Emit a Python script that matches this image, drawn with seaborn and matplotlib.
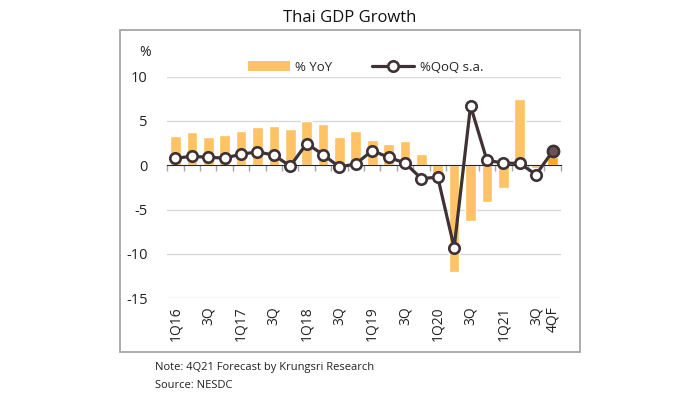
import numpy as np
import pandas as pd
import matplotlib
matplotlib.use("Agg")
import matplotlib.pyplot as plt
import seaborn as sns
from matplotlib.patches import Rectangle, Patch
from matplotlib.lines import Line2D

# 数据 (1Q16 - 4Q21F)
quarters = ['1Q16', '2Q16', '3Q16', '4Q16', '1Q17', '2Q17', '3Q17', '4Q17',
            '1Q18', '2Q18', '3Q18', '4Q18', '1Q19', '2Q19', '3Q19', '4Q19',
            '1Q20', '2Q20', '3Q20', '4Q20', '1Q21', '2Q21', '3Q21', '4QF']
tick_labels = ['1Q16', '', '3Q', '', '1Q17', '', '3Q', '', '1Q18', '', '3Q', '',
               '1Q19', '', '3Q', '', '1Q20', '', '3Q', '', '1Q21', '', '3Q', '4QF']
yoy = [3.3, 3.8, 3.2, 3.4, 3.85, 4.3, 4.4, 4.1, 5.0, 4.6, 3.2, 3.85,
       2.85, 2.4, 2.7, 1.3, -1.8, -12.1, -6.3, -4.1, -2.6, 7.5, -0.3, 0.9]
qoq = [0.8, 1.0, 0.9, 0.8, 1.25, 1.5, 1.15, -0.1, 2.45, 1.2, -0.2, 0.15,
       1.65, 0.9, 0.25, -1.5, -1.35, -9.3, 6.7, 0.55, 0.25, 0.2, -1.05, 1.55]

BAR_COLOR = '#FFC264'
BAR_FORECAST = '#FFA81C'
LINE_COLOR = '#3E3234'
LAST_FILL = '#6E5253'
GRID_COLOR = '#D9D9D9'

df = pd.DataFrame({'quarter': quarters, 'yoy': yoy, 'qoq': qoq})
df['pos'] = np.arange(len(df))

sns.set_style('white')
plt.rcParams['font.family'] = ['Open Sans', 'DejaVu Sans']

fig = plt.figure(figsize=(7, 3.97), dpi=100)
ax = fig.add_axes([0.239, 0.249, 0.562, 0.558])

# 柱状图 (% YoY)
bar_colors = [BAR_COLOR] * (len(df) - 1) + [BAR_FORECAST]
sns.barplot(data=df, x='quarter', y='yoy', hue='quarter', palette=bar_colors,
            width=0.65, legend=False, ax=ax, zorder=2, saturation=1)

# 折线 (%QoQ s.a.)
sns.lineplot(data=df, x='pos', y='qoq', color=LINE_COLOR, linewidth=2.3,
             marker='o', markersize=7.5, markerfacecolor='white',
             markeredgecolor=LINE_COLOR, markeredgewidth=1.9, ax=ax, zorder=4)
ax.plot(df['pos'].iloc[-1], df['qoq'].iloc[-1], marker='o', markersize=8,
        markerfacecolor=LAST_FILL, markeredgecolor=LINE_COLOR,
        markeredgewidth=1.9, zorder=5)

ax.set_xlim(-0.5, len(df) - 0.5)
ax.set_ylim(-15, 10)
ax.set_yticks([-15, -10, -5, 0, 5, 10])
ax.set_yticklabels(['-15', '-10', '-5', '0', '5', '10'])
for y in [-15, -10, -5, 5, 10]:
    ax.axhline(y, color=GRID_COLOR, linewidth=1, zorder=0)

ax.set_xticks(df['pos'])
ax.set_xticklabels(tick_labels, rotation=90)
ax.tick_params(axis='x', length=0, pad=6, labelsize=10, colors='#222222')
ax.tick_params(axis='y', length=0, pad=14, labelsize=10.5, colors='#222222')
ax.set_xlabel('')
ax.set_ylabel('')
for s in ax.spines.values():
    s.set_visible(False)

# 零轴 + 刻度
sec = ax.secondary_xaxis(0.6)
sec.xaxis.set_ticks_position('bottom')
sec.set_xticks(np.arange(-0.5, len(df), 1.0))
sec.set_xticklabels([])
sec.tick_params(axis='x', which='both', length=4, width=1, color='#A6A6A6',
                direction='out', top=False, bottom=True)
sec.spines['bottom'].set_color('#A6A6A6')
sec.spines['bottom'].set_linewidth(1.2)
sec.set_zorder(3)

fig.text(0.207, 0.868, '%', fontsize=10, ha='center', va='center', color='#222222')
fig.text(0.5, 0.955, 'Thai GDP Growth', fontsize=12, ha='center', va='center', color='#111111')

handles = [Patch(facecolor=BAR_COLOR, edgecolor='none'),
           Line2D([0], [0], color=LINE_COLOR, linewidth=2.3, marker='o', markersize=7.5,
                  markerfacecolor='white', markeredgecolor=LINE_COLOR, markeredgewidth=1.9)]
fig.legend(handles, ['% YoY', '%QoQ s.a.'], loc='center', bbox_to_anchor=(0.522, 0.831),
           ncol=2, frameon=False, fontsize=9.5, handlelength=3.2, handleheight=0.7,
           columnspacing=3.0, handletextpad=0.4)

# 外框
fig.add_artist(Rectangle((120 / 700, 1 - 352 / 397), 460 / 700, 322 / 397,
                         transform=fig.transFigure, fill=False,
                         edgecolor='#A6A6A6', linewidth=1.3))

fig.text(0.221, 0.075, 'Note: 4Q21 Forecast by Krungsri Research', fontsize=8, color='#222222', va='center')
fig.text(0.221, 0.030, 'Source: NESDC', fontsize=8, color='#222222', va='center')

plt.savefig('out.png', dpi=100)
